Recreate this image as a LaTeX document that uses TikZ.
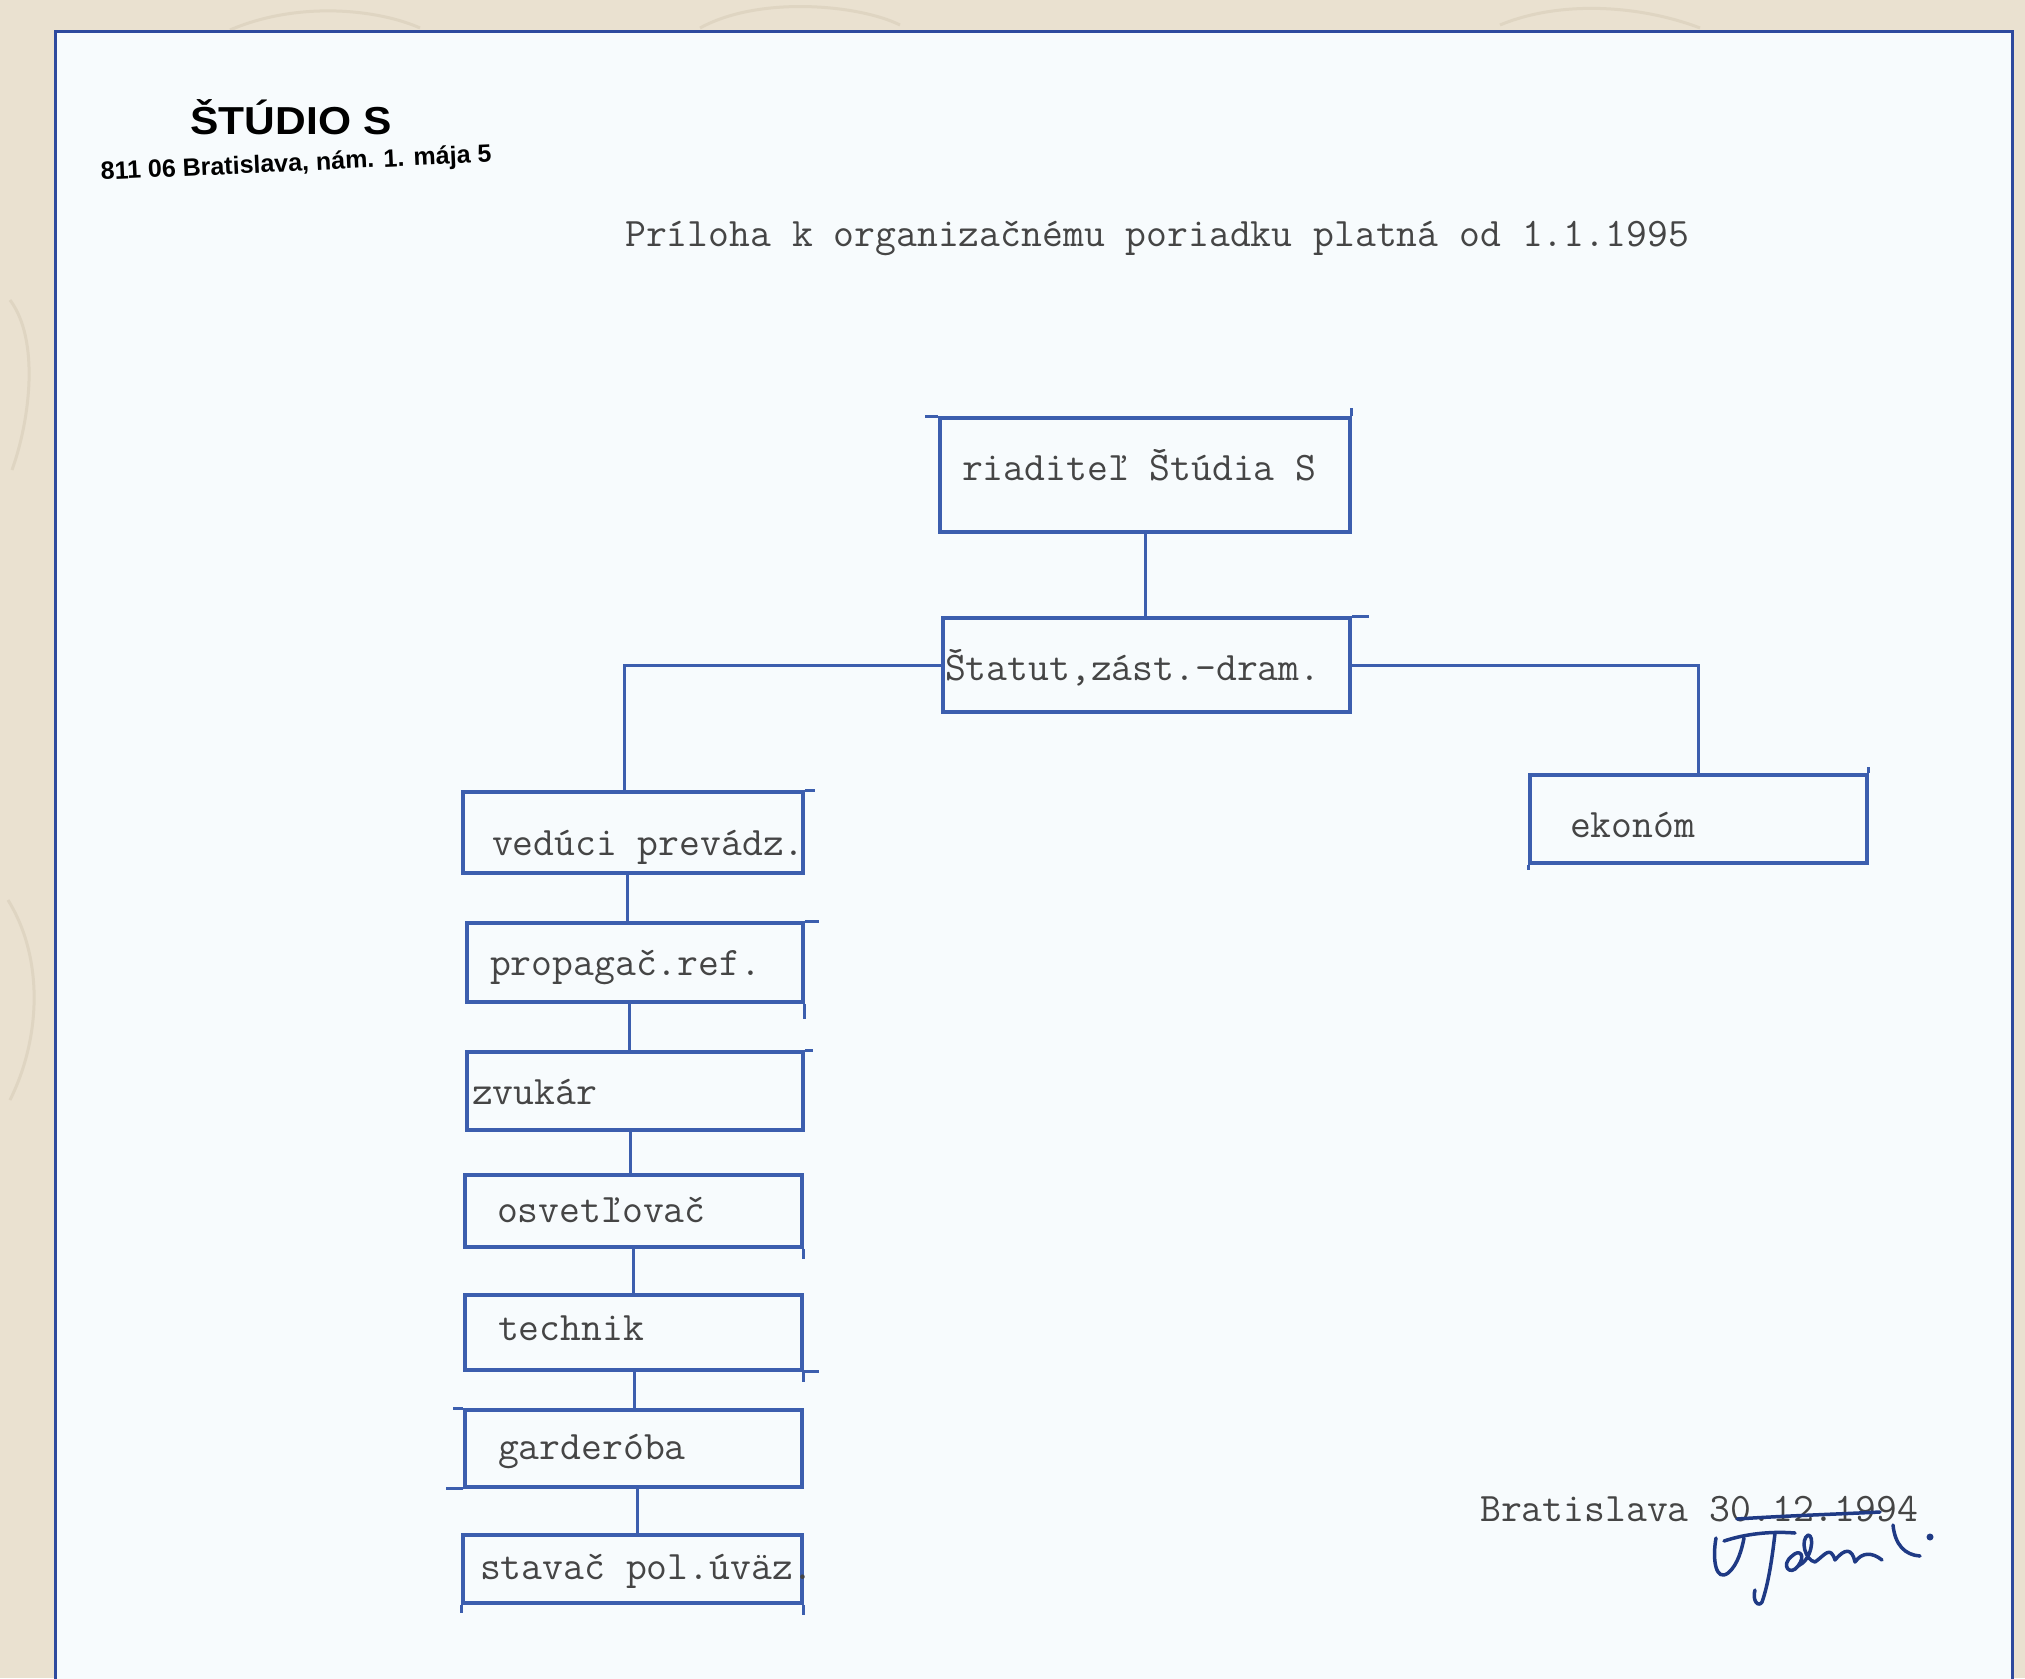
\documentclass[tikz,border=0pt]{standalone}
\usepackage{fontspec}
\setmainfont{Liberation Serif}
\newfontfamily\hdr{Liberation Sans}
\definecolor{pen}{HTML}{3C5EAE}
\definecolor{ink}{HTML}{1F3A85}
\definecolor{tw}{HTML}{454545}
\definecolor{paper}{HTML}{F7FBFD}
\definecolor{frame}{HTML}{2E4A9E}
\definecolor{beige}{HTML}{EAE1D0}
\definecolor{beigeline}{HTML}{DFD5C2}
\newcommand{\bxt}[3]{\makebox[#2pt][l]{\hspace*{#1pt}#3}}
\newcommand{\twfont}{\ttfamily\addfontfeatures{FakeBold=0.4}\fontsize{40.5}{45}\selectfont}
\begin{document}
\begin{tikzpicture}[x=1pt,y=-1pt,
  obox/.style={draw=pen, line width=3.5pt, inner xsep=0pt, inner ysep=0pt,
    font=\twfont, text=tw, text depth=7pt},
  conn/.style={draw=pen, line width=3pt},
  over/.style={draw=pen, line width=3pt},
  typed/.style={font=\twfont, text=tw, inner sep=0pt},
  sig/.style={draw=ink, line width=3.5pt, line cap=round, line join=round}]
\useasboundingbox (0,0) rectangle (2025,1678);
% background
\fill[beige] (0,0) rectangle (2025,1678);
\draw[beigeline, line width=3pt] (230,30) .. controls (300,0) and (380,10) .. (420,28);
\draw[beigeline, line width=3pt] (700,28) .. controls (760,-5) and (860,5) .. (900,25);
\draw[beigeline, line width=3pt] (1500,25) .. controls (1560,0) and (1640,5) .. (1700,28);
\draw[beigeline, line width=3pt] (10,300) .. controls (40,340) and (30,420) .. (12,470);
\draw[beigeline, line width=3pt] (8,900) .. controls (45,960) and (40,1040) .. (10,1100);
% sheet
\fill[paper] (55,32) rectangle (2012,1690);
\draw[frame, line width=3pt] (55,1690) -- (55,32) -- (2012,32) -- (2012,1690);
% header
\node[font=\hdr\bfseries\fontsize{39}{44}\selectfont, anchor=base, xscale=1.09, inner sep=0pt] (studio) at (291,134) {ŠTÚDIO S};
\node[font=\hdr\bfseries\fontsize{25}{29}\selectfont, anchor=base west, rotate=2.6, inner sep=0pt] (addr) at (101,180) {811 06 Bratislava, nám. 1. mája 5};
\node[typed, anchor=base west] (title) at (625,246) {Príloha k organizačnému poriadku platná od 1.1.1995};
% boxes
\node[obox, minimum width=410pt, minimum height=114pt, text height=18pt] (dir) at (1145,475) {\bxt{22}{410}{riaditeľ Štúdia S}};
\node[obox, minimum width=407pt, minimum height=94pt, text height=38pt] (stat) at (1146.5,665) {\bxt{2}{407}{Štatut,zást.-dram.}};
\node[obox, minimum width=337pt, minimum height=88pt, text height=44pt] (ekon) at (1698.5,819) {\bxt{40}{337}{ekonóm}};
\node[obox, minimum width=340pt, minimum height=81pt, text height=52pt] (ved) at (633,832.5) {\bxt{29}{340}{vedúci prevádz.}};
\node[obox, minimum width=336pt, minimum height=79pt, text height=32pt] (prop) at (635,962.5) {\bxt{23}{336}{propagač.ref.}};
\node[obox, minimum width=336pt, minimum height=78pt, text height=34pt] (zvuk) at (635,1091) {\bxt{5}{336}{zvukár}};
\node[obox, minimum width=337pt, minimum height=72pt, text height=30pt] (osv) at (633.5,1211) {\bxt{32}{337}{osvetľovač}};
\node[obox, minimum width=337pt, minimum height=75pt, text height=22pt] (tech) at (633.5,1332.5) {\bxt{33}{337}{technik}};
\node[obox, minimum width=337pt, minimum height=77pt, text height=28pt] (gard) at (633.5,1448.5) {\bxt{33}{337}{garderóba}};
\node[obox, minimum width=339pt, minimum height=68pt, text height=28pt] (stav) at (632.5,1569) {\bxt{17}{339}{stavač pol.úväz.}};
% hand-drawn overshoots at corners
\draw[over] (dir.north west) -- ++(-13,0);
\draw[over] (dir.north east) -- ++(0,-8);
\draw[over] (stat.north east) -- ++(17,0);
\draw[over] (ved.north east) -- ++(10,0);
\draw[over] (prop.north east) -- ++(14,0);
\draw[over] (prop.south east) -- ++(0,15);
\draw[over] (zvuk.north east) -- ++(8,0);
\draw[over] (osv.south east) -- ++(0,10);
\draw[over] (tech.south east) -- ++(15,0);
\draw[over] (tech.south east) -- ++(0,10);
\draw[over] (gard.south west) -- ++(-17,0);
\draw[over] (gard.north west) -- ++(-10,0);
\draw[over] (stav.south east) -- ++(0,10);
\draw[over] (stav.south west) -- ++(0,8);
\draw[over] (ekon.north east) -- ++(0,-6);
\draw[over] (ekon.south west) -- ++(0,5);
% connectors
\draw[conn] (dir.south) -- (dir.south |- stat.north);
\draw[conn] (stat.west) -| ([xshift=-9pt]ved.north);
\draw[conn] (stat.east) -| (ekon.north);
\draw[conn] ([xshift=-6pt]ved.south) -- ([xshift=-6pt]ved.south |- prop.north);
\draw[conn] ([xshift=-6pt]prop.south) -- ([xshift=-6pt]prop.south |- zvuk.north);
\draw[conn] ([xshift=-5pt]zvuk.south) -- ([xshift=-5pt]zvuk.south |- osv.north);
\draw[conn] (osv.south) -- (osv.south |- tech.north);
\draw[conn] ([xshift=1pt]tech.south) -- ([xshift=1pt]tech.south |- gard.north);
\draw[conn] ([xshift=4pt]gard.south) -- ([xshift=4pt]gard.south |- stav.north);
% date and signature
\node[typed, anchor=base west] (date) at (1480,1521) {Bratislava 30.12.1994};
\draw[sig] (1737,1519) .. controls (1780,1516) and (1840,1514) .. (1880,1512);
\draw[sig] (1716,1538) .. controls (1712,1560) and (1716,1582) .. (1728,1573) .. controls (1738,1565) and (1742,1548) .. (1744,1538);
\draw[sig] (1724,1541) .. controls (1745,1534) and (1770,1531) .. (1795,1533);
\draw[sig] (1775,1533) .. controls (1772,1560) and (1768,1585) .. (1762,1602) .. controls (1758,1608) and (1752,1600) .. (1755,1590);
\draw[sig] (1792,1556) .. controls (1780,1565) and (1790,1577) .. (1798,1566) .. controls (1806,1556) and (1800,1548) .. (1792,1556);
\draw[sig] (1798,1566) .. controls (1812,1560) and (1815,1535) .. (1808,1535) .. controls (1800,1540) and (1805,1560) .. (1815,1562);
\draw[sig] (1815,1562) .. controls (1825,1555) and (1830,1545) .. (1835,1560) .. controls (1845,1548) and (1852,1548) .. (1855,1562) .. controls (1862,1552) and (1872,1552) .. (1882,1560);
\draw[sig] (1893,1525) .. controls (1895,1545) and (1905,1555) .. (1920,1556);
\fill[ink] (1930,1537) circle (3.5pt);
\end{tikzpicture}
\end{document}
